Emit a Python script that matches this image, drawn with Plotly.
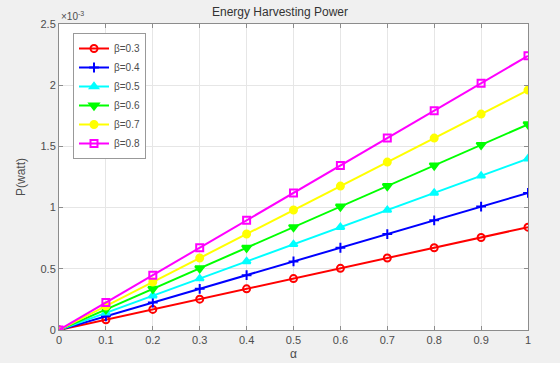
import plotly.graph_objects as go

alpha = [0, 0.1, 0.2, 0.3, 0.4, 0.5, 0.6, 0.7, 0.8, 0.9, 1.0]
# power in units of 1e-3 W
p_b03 = [0, 0.084, 0.168, 0.252, 0.336, 0.420, 0.504, 0.588, 0.672, 0.756, 0.840]
p_b04 = [0, 0.112, 0.224, 0.336, 0.448, 0.560, 0.672, 0.784, 0.896, 1.008, 1.120]
p_b05 = [0, 0.140, 0.280, 0.420, 0.560, 0.700, 0.840, 0.980, 1.120, 1.260, 1.400]
p_b06 = [0, 0.168, 0.336, 0.504, 0.672, 0.840, 1.008, 1.176, 1.344, 1.512, 1.680]
p_b07 = [0, 0.196, 0.392, 0.588, 0.784, 0.980, 1.176, 1.372, 1.568, 1.764, 1.960]
p_b08 = [0, 0.224, 0.448, 0.672, 0.896, 1.120, 1.344, 1.568, 1.792, 2.016, 2.240]
labels = ["β=0.3", "β=0.4", "β=0.5", "β=0.6", "β=0.7", "β=0.8"]
x_ticks = [0, 0.1, 0.2, 0.3, 0.4, 0.5, 0.6, 0.7, 0.8, 0.9, 1]
x_tick_text = ["0", "0.1", "0.2", "0.3", "0.4", "0.5", "0.6", "0.7", "0.8", "0.9", "1"]
y_ticks = [0, 0.5, 1, 1.5, 2, 2.5]
y_tick_text = ["0", "0.5", "1", "1.5", "2", "2.5"]

series = [p_b03, p_b04, p_b05, p_b06, p_b07, p_b08]
colors = ["#ff0000", "#0000ff", "#00ffff", "#00ff00", "#ffff00", "#ff00ff"]
symbols = ["circle-open", "cross-thin-open", "triangle-up", "triangle-down", "circle", "square-open"]
sizes = [7, 7, 7, 8, 7, 7]

fig = go.Figure()
for ys, lab, c, s, sz in zip(series, labels, colors, symbols, sizes):
    fig.add_trace(go.Scatter(
        x=alpha, y=ys, name=lab, mode="lines+markers",
        line=dict(color=c, width=2),
        marker=dict(symbol=s, size=sz, color=c, line=dict(color=c, width=2)),
    ))

axis_font = dict(family="Liberation Sans, Arial, sans-serif", size=11, color="#4d4d4d")
fig.update_layout(
    width=560, height=372,
    margin=dict(l=59, r=32, t=24, b=42),
    paper_bgcolor="#f0f0f0",
    plot_bgcolor="#ffffff",
    font=axis_font,
    showlegend=True,
    title=dict(text="Energy Harvesting Power", x=0.5, xanchor="center",
               y=1 - 12/372, yanchor="middle",
               font=dict(family="Liberation Sans, Arial, sans-serif", size=12, color="#333333")),
    legend=dict(x=(73-59)/469, y=1 - (33-24)/306, xanchor="left", yanchor="top",
                bgcolor="#ffffff", bordercolor="#999999", borderwidth=1,
                font=dict(family="Liberation Sans, Arial, sans-serif", size=10, color="#4d4d4d"),
                tracegroupgap=0, itemwidth=30),
    xaxis=dict(range=[0, 1], tickvals=x_ticks, ticktext=x_tick_text,
               showgrid=True, gridcolor="#e6e6e6", zeroline=False,
               showline=True, linecolor="#8c8c8c", linewidth=1, mirror="ticks",
               ticks="inside", ticklen=4, tickcolor="#8c8c8c",
               title=dict(text="α", standoff=4, font=dict(size=12, color="#4d4d4d"))),
    yaxis=dict(range=[0, 2.5], tickvals=y_ticks, ticktext=y_tick_text,
               showgrid=True, gridcolor="#e6e6e6", zeroline=False,
               showline=True, linecolor="#8c8c8c", linewidth=1, mirror="ticks",
               ticks="inside", ticklen=4, tickcolor="#8c8c8c",
               title=dict(text="P(watt)", standoff=12, font=dict(size=12, color="#4d4d4d"))),
    shapes=[dict(type="rect", xref="paper", yref="paper", x0=-59/469, x1=1 + 32/469,
                 y0=-42/306, y1=-(42 - 9)/306, fillcolor="#ffffff", line=dict(width=0), layer="below")],
    annotations=[dict(text="×10<sup>-3</sup>", xref="paper", yref="paper",
                      x=0, y=1, xanchor="left", yanchor="bottom", showarrow=False,
                      font=dict(family="Liberation Sans, Arial, sans-serif", size=10, color="#4d4d4d"))],
)

fig.write_html("out.html")
